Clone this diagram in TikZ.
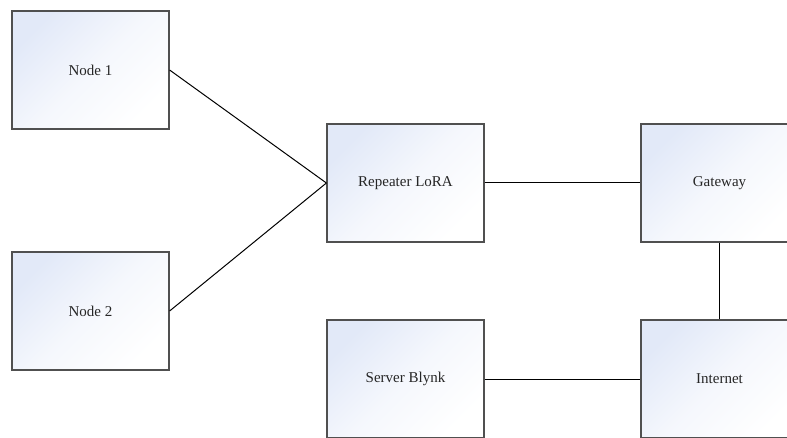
\documentclass[tikz,border=0pt]{standalone}
\usepackage{fontspec}
\setmainfont{Liberation Serif}
\usetikzlibrary{positioning}

\definecolor{boxblue}{RGB}{226,233,248}
\definecolor{boxedge}{RGB}{80,80,80}

\begin{document}
\begin{tikzpicture}[x=1pt, y=1pt,
    block/.style={rectangle, draw=boxedge, line width=1.2pt,
        top color=boxblue, bottom color=white, middle color=boxblue!35,
        shading angle=45,
        minimum width=157pt, minimum height=118pt,
        font=\fontsize{15}{18}\selectfont, text=black!85},
    link/.style={draw=black, line width=1pt}]
        % Canvas
        \useasboundingbox (0,0) rectangle (787,437);
        \clip (0,0) rectangle (787,437);

        % Box centres
        \def\colA{90.5}
        \def\colB{405.5}
        \def\colC{719.5}

        % Sensor nodes
        \node[block] (node1) at (\colA, 367) {Node 1};
        \node[block] (node2) at (\colA, 126) {Node 2};

        % Repeater and gateway
        \node[block] (repeater) at (\colB, 254) {Repeater LoRA};
        \node[block] (gateway) at (\colC, 254) {Gateway};

        % Server side
        \node[block] (server) at (\colB, 58) {Server Blynk};
        \node[block] (internet) at (\colC, 58) {Internet};

        % Links
        \draw[link] (node1.east) -- (repeater.west);
        \draw[link] (node2.east) -- (repeater.west);
        \draw[link] (repeater.east) -- (gateway.west);
        \draw[link] (gateway.south) -- (internet.north);
        \draw[link] (server.east) -- (internet.west);
    \end{tikzpicture}
\end{document}
